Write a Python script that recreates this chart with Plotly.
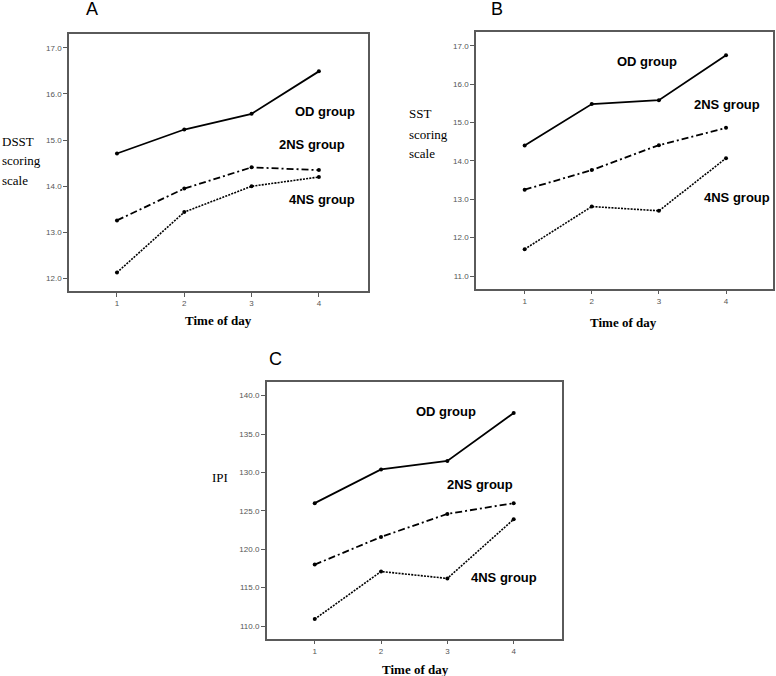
import plotly.graph_objects as go

# ---- data ----
time_of_day = [1, 2, 3, 4]
groups = ["OD group", "2NS group", "4NS group"]

dsst_od = [14.71, 15.23, 15.57, 16.49]
dsst_2ns = [13.26, 13.95, 14.41, 14.35]
dsst_4ns = [12.13, 13.44, 14.00, 14.20]

sst_od = [14.40, 15.48, 15.58, 16.75]
sst_2ns = [13.25, 13.76, 14.41, 14.86]
sst_4ns = [11.70, 12.81, 12.70, 14.07]

ipi_od = [126.0, 130.4, 131.5, 137.75]
ipi_2ns = [118.0, 121.6, 124.6, 126.0]
ipi_4ns = [110.9, 117.1, 116.2, 123.9]

dsst_ticks = [12, 13, 14, 15, 16, 17]
sst_ticks = [11, 12, 13, 14, 15, 16, 17]
ipi_ticks = [110, 115, 120, 125, 130, 135, 140]

W, H = 776, 676
fig = go.Figure()

dashes = ["solid", "7px,3px,2px,3px", "2px,1.2px"]
widths = [1.8, 1.8, 1.6]

panels = [
    ("x", "y", [dsst_od, dsst_2ns, dsst_4ns]),
    ("x2", "y2", [sst_od, sst_2ns, sst_4ns]),
    ("x3", "y3", [ipi_od, ipi_2ns, ipi_4ns]),
]
for xa, ya, series in panels:
    for name, vals, dash, w in zip(groups, series, dashes, widths):
        fig.add_trace(go.Scatter(
            x=time_of_day, y=vals, xaxis=xa, yaxis=ya, mode="lines+markers",
            name=name, showlegend=False,
            line=dict(color="black", width=w, dash=dash),
            marker=dict(color="black", size=4),
        ))

def px_x(p):
    return p / W

def px_y(p):
    return 1 - p / H

axis_common = dict(
    showline=True, mirror=True, linecolor="#5a5a5a", linewidth=1.5,
    ticks="outside", ticklen=4, tickwidth=1, tickcolor="#5a5a5a",
    showgrid=False, zeroline=False,
    tickfont=dict(family="Arial, Liberation Sans", size=8, color="#555555"),
)

fig.update_layout(
    width=W, height=H, margin=dict(l=0, r=0, t=0, b=0),
    paper_bgcolor="white", plot_bgcolor="white",
    xaxis=dict(domain=[px_x(69), px_x(368)], range=[0.287, 4.73],
               tickvals=time_of_day, anchor="y", **axis_common),
    yaxis=dict(domain=[px_y(291), px_y(34)], range=[11.73, 17.30],
               tickvals=dsst_ticks, tickformat=".1f", anchor="x", **axis_common),
    xaxis2=dict(domain=[px_x(476), px_x(773)], range=[0.275, 4.70],
                tickvals=time_of_day, anchor="y2", **axis_common),
    yaxis2=dict(domain=[px_y(288.7), px_y(32.3)], range=[10.67, 17.35],
                tickvals=sst_ticks, tickformat=".1f", anchor="x2", **axis_common),
    xaxis3=dict(domain=[px_x(266.7), px_x(562.3)], range=[0.276, 4.733],
                tickvals=time_of_day, anchor="y3", **axis_common),
    yaxis3=dict(domain=[px_y(638.7), px_y(382.3)], range=[108.35, 141.74],
                tickvals=ipi_ticks, tickformat=".1f", anchor="x3", **axis_common),
)

label_font = dict(family="Arial, Liberation Sans", size=13, color="black")
ann = []
# group labels (data coords)
group_pos = [
    ("x", "y", [(4.09, 15.62), (3.90, 14.90), (4.05, 13.72)]),
    ("x2", "y2", [(2.83, 16.58), (4.01, 15.46), (4.16, 13.04)]),
    ("x3", "y3", [(2.98, 137.92), (3.49, 128.37), (3.86, 116.35)]),
]
for xa, ya, pos in group_pos:
    for name, (gx, gy) in zip(groups, pos):
        ann.append(dict(x=gx, y=gy, xref=xa, yref=ya, text="<b>" + name + "</b>",
                        showarrow=False, font=label_font,
                        xanchor="center", yanchor="middle"))

serif = "Liberation Serif, Times New Roman, serif"
# panel letters
for letter, lx, ly in [("A", 92, 9), ("B", 497, 9), ("C", 275, 359)]:
    ann.append(dict(x=px_x(lx), y=px_y(ly), xref="paper", yref="paper", text=letter,
                    showarrow=False, font=dict(family="Arial, Liberation Sans", size=18, color="black"),
                    xanchor="center", yanchor="middle"))

# y titles
for txt, lx, ly in [("DSST", 0, 141), ("scoring", 0, 161), ("scale", 0, 180),
                    ("SST", 407, 114), ("scoring", 407, 135), ("scale", 407, 154),
                    ("IPI", 210, 477)]:
    ann.append(dict(x=px_x(lx), y=px_y(ly), xref="paper", yref="paper", text=txt,
                    showarrow=False, font=dict(family=serif, size=13, color="black"),
                    xanchor="left", yanchor="middle"))

# x titles
for cx, cy in [(218.5, 320), (623, 322), (415, 669)]:
    ann.append(dict(x=px_x(cx), y=px_y(cy), xref="paper", yref="paper",
                    text="<b>Time of day</b>", showarrow=False,
                    font=dict(family=serif, size=13, color="black"),
                    xanchor="center", yanchor="middle"))

fig.update_layout(annotations=ann, hovermode=False)
fig.write_html(
    "out.html",
    config={"displayModeBar": False},
    post_script="document.body.style.margin='0';document.body.style.overflow='hidden';",
)
